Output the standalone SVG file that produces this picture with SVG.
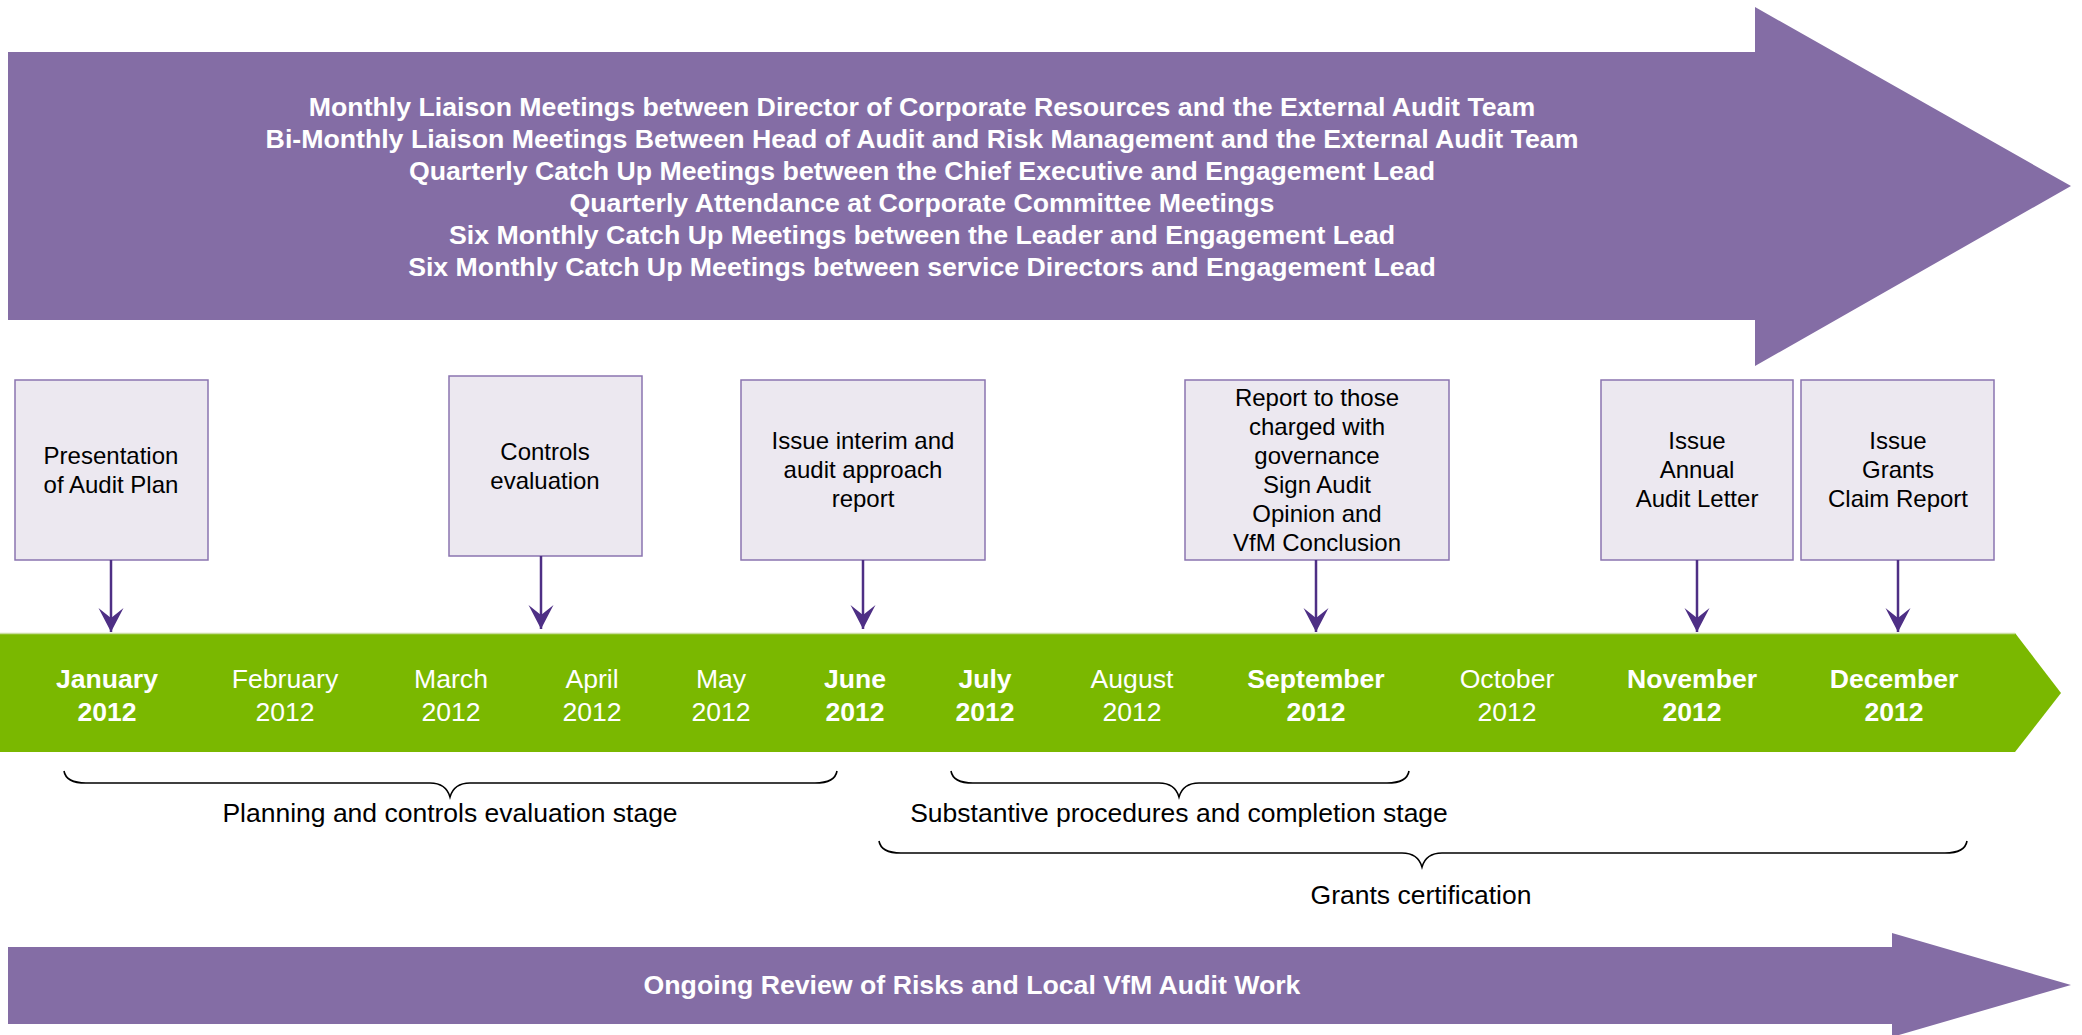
<svg xmlns="http://www.w3.org/2000/svg" width="2082" height="1035" viewBox="0 0 2082 1035">
  <style>
    .band { fill: #846DA5; }
    .banner { font-family: "Liberation Sans", Arial, sans-serif; font-size: 26.7px; font-weight: bold; fill: #ffffff; text-anchor: middle; }
    .box { fill: #ECE8F0; stroke: #8A74B0; stroke-width: 1.5; }
    .boxtext { font-family: "Liberation Sans", Arial, sans-serif; font-size: 24px; fill: #000000; text-anchor: middle; }
    .month { font-family: "Liberation Sans", Arial, sans-serif; font-size: 26.6px; fill: #ffffff; text-anchor: middle; }
    .month.key { font-weight: bold; }
    .link { stroke: #4E2F85; stroke-width: 2.5; fill: none; marker-end: url(#head); }
    .brace { stroke: #000000; stroke-width: 1.6; fill: none; }
    .stage { font-family: "Liberation Sans", Arial, sans-serif; font-size: 26.5px; fill: #000000; text-anchor: middle; }
  </style>
  <defs>
    <marker id="head" markerUnits="userSpaceOnUse" viewBox="-25 -13 26 26" refX="0" refY="0" markerWidth="26" markerHeight="26" orient="auto">
      <path d="M0,0 L-24,-12.5 L-14,0 L-24,12.5 Z" fill="#4E2F85"/>
    </marker>
  </defs>

  <rect width="2082" height="1035" fill="#ffffff"/>

  <!-- Liaison meetings banner -->
  <g id="liaison-banner">
    <polygon class="band" points="8,52 1755,52 1755,7 2071,186 1755,366 1755,320 8,320"/>
    <text class="banner" x="922" y="116">Monthly Liaison Meetings between Director of Corporate Resources and the External Audit Team</text>
    <text class="banner" x="922" y="148">Bi-Monthly Liaison Meetings Between Head of Audit and Risk Management and the External Audit Team</text>
    <text class="banner" x="922" y="180">Quarterly Catch Up Meetings between the Chief Executive and Engagement Lead</text>
    <text class="banner" x="922" y="212">Quarterly Attendance at Corporate Committee Meetings</text>
    <text class="banner" x="922" y="244">Six Monthly Catch Up Meetings between the Leader and Engagement Lead</text>
    <text class="banner" x="922" y="276">Six Monthly Catch Up Meetings between service Directors and Engagement Lead</text>
  </g>

  <!-- Milestone boxes -->
  <g id="box-audit-plan">
    <rect class="box" x="15" y="380" width="193" height="180"/>
    <text class="boxtext" x="111" y="464">Presentation</text>
    <text class="boxtext" x="111" y="493">of Audit Plan</text>
  </g>
  <g id="box-controls">
    <rect class="box" x="449" y="376" width="193" height="180"/>
    <text class="boxtext" x="545" y="460">Controls</text>
    <text class="boxtext" x="545" y="489">evaluation</text>
  </g>
  <g id="box-interim">
    <rect class="box" x="741" y="380" width="244" height="180"/>
    <text class="boxtext" x="863" y="449">Issue interim and</text>
    <text class="boxtext" x="863" y="478">audit approach</text>
    <text class="boxtext" x="863" y="507">report</text>
  </g>
  <g id="box-governance">
    <rect class="box" x="1185" y="380" width="264" height="180"/>
    <text class="boxtext" x="1317" y="406">Report to those</text>
    <text class="boxtext" x="1317" y="435">charged with</text>
    <text class="boxtext" x="1317" y="464">governance</text>
    <text class="boxtext" x="1317" y="493">Sign Audit</text>
    <text class="boxtext" x="1317" y="522">Opinion and</text>
    <text class="boxtext" x="1317" y="551">VfM Conclusion</text>
  </g>
  <g id="box-annual-letter">
    <rect class="box" x="1601" y="380" width="192" height="180"/>
    <text class="boxtext" x="1697" y="449">Issue</text>
    <text class="boxtext" x="1697" y="478">Annual</text>
    <text class="boxtext" x="1697" y="507">Audit Letter</text>
  </g>
  <g id="box-grants-report">
    <rect class="box" x="1801" y="380" width="193" height="180"/>
    <text class="boxtext" x="1898" y="449">Issue</text>
    <text class="boxtext" x="1898" y="478">Grants</text>
    <text class="boxtext" x="1898" y="507">Claim Report</text>
  </g>

  <!-- Month timeline -->
  <g id="timeline">
    <polygon fill="#7AB800" points="0,633 2015,633 2061,693 2015,752 0,752"/>
    <line x1="0" y1="633.5" x2="2015" y2="633.5" stroke="#C9DDA0" stroke-width="1.5"/>
    <text class="month key" x="107" y="688">January</text><text class="month key" x="107" y="721">2012</text>
    <text class="month" x="285" y="688">February</text><text class="month" x="285" y="721">2012</text>
    <text class="month" x="451" y="688">March</text><text class="month" x="451" y="721">2012</text>
    <text class="month" x="592" y="688">April</text><text class="month" x="592" y="721">2012</text>
    <text class="month" x="721" y="688">May</text><text class="month" x="721" y="721">2012</text>
    <text class="month key" x="855" y="688">June</text><text class="month key" x="855" y="721">2012</text>
    <text class="month key" x="985" y="688">July</text><text class="month key" x="985" y="721">2012</text>
    <text class="month" x="1132" y="688">August</text><text class="month" x="1132" y="721">2012</text>
    <text class="month key" x="1316" y="688">September</text><text class="month key" x="1316" y="721">2012</text>
    <text class="month" x="1507" y="688">October</text><text class="month" x="1507" y="721">2012</text>
    <text class="month key" x="1692" y="688">November</text><text class="month key" x="1692" y="721">2012</text>
    <text class="month key" x="1894" y="688">December</text><text class="month key" x="1894" y="721">2012</text>
  </g>

  <!-- Connectors from milestones to months -->
  <g id="connectors">
    <line class="link" x1="111" y1="560" x2="111" y2="632"/>
    <line class="link" x1="541" y1="556" x2="541" y2="629"/>
    <line class="link" x1="863" y1="560" x2="863" y2="629"/>
    <line class="link" x1="1316" y1="560" x2="1316" y2="632"/>
    <line class="link" x1="1697" y1="560" x2="1697" y2="632"/>
    <line class="link" x1="1898" y1="560" x2="1898" y2="632"/>
  </g>

  <!-- Stage braces -->
  <g id="stage-planning">
    <path class="brace" d="M64,771 Q66,783 86,783 L430,783 Q446,783 450,797 Q454,783 470,783 L815,783 Q835,783 837,771"/>
    <text class="stage" x="450" y="822">Planning and controls evaluation stage</text>
  </g>
  <g id="stage-substantive">
    <path class="brace" d="M951,771 Q953,783 973,783 L1159,783 Q1175,783 1179,797 Q1183,783 1199,783 L1387,783 Q1407,783 1409,771"/>
    <text class="stage" x="1179" y="822">Substantive procedures and completion stage</text>
  </g>
  <g id="stage-grants">
    <path class="brace" d="M879,841 Q881,853 901,853 L1402,853 Q1418,853 1422,867 Q1426,853 1442,853 L1945,853 Q1965,853 1967,841"/>
    <text class="stage" x="1421" y="904">Grants certification</text>
  </g>

  <!-- Ongoing review banner -->
  <g id="ongoing-banner">
    <polygon class="band" points="8,947 1892,947 1892,933 2071,985 1892,1037 1892,1024 8,1024"/>
    <text class="banner" x="972" y="994">Ongoing Review of Risks and Local VfM Audit Work</text>
  </g>
</svg>
